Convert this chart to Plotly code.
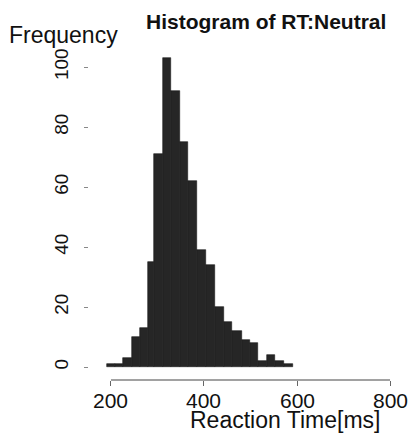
import plotly.graph_objects as go

# Data
bin_edges = [191, 208, 225, 246, 262, 279, 293, 311, 329, 348, 366, 384,
             404, 424, 442, 460, 481, 499, 517, 535, 553, 573, 591]
counts = [1, 1, 3, 10, 13, 35, 71, 103, 92, 75, 62, 39,
          34, 20, 15, 12, 9, 8, 2, 4, 2, 1]
x_ticks = [200, 400, 600, 800]
y_ticks = [0, 20, 40, 60, 80, 100]

centers = [(a + b) / 2 for a, b in zip(bin_edges[:-1], bin_edges[1:])]
widths = [b - a for a, b in zip(bin_edges[:-1], bin_edges[1:])]

FONT = "Liberation Sans, Arial, Helvetica, sans-serif"

fig = go.Figure(go.Bar(
    x=centers, y=counts, width=widths,
    marker=dict(color="#262626", line=dict(color="#1a1a1a", width=0.6)),
    hoverinfo="skip",
))

W, H = 412, 436
ML, MR, MT, MB = 88, 15, 50, 56
pw = W - ML - MR
ph = H - MT - MB

def px2x(px):
    return (px - ML) / pw

def px2y(py):
    return (H - MB - py) / ph

annotations = [
    dict(text="<b>Histogram of RT:Neutral</b>", xref="paper", yref="paper",
         x=px2x(265.5), y=px2y(22), xanchor="center", yanchor="middle",
         showarrow=False, font=dict(size=21, family=FONT, color="#111")),
    dict(text="Frequency", xref="paper", yref="paper",
         x=px2x(63), y=px2y(35), xanchor="center", yanchor="middle",
         showarrow=False, font=dict(size=23, family=FONT, color="#111")),
    dict(text="Reaction Time[ms]", xref="paper", yref="paper",
         x=px2x(285), y=px2y(420), xanchor="center", yanchor="middle",
         showarrow=False, font=dict(size=23, family=FONT, color="#111")),
]
# x tick labels placed as text at the axis tick values
for v in x_ticks:
    annotations.append(dict(
        text=str(v), xref="x", yref="paper", x=v, y=px2y(400),
        xanchor="center", yanchor="middle", showarrow=False,
        font=dict(size=21, family=FONT, color="#111")))

fig.update_layout(
    width=W, height=H,
    margin=dict(l=ML, r=MR, t=MT, b=MB, pad=0),
    paper_bgcolor="white", plot_bgcolor="white",
    bargap=0, showlegend=False,
    font=dict(family=FONT, color="#111"),
    xaxis=dict(
        domain=[px2x(104), 1], range=[185, 815],
        tickmode="array", tickvals=x_ticks, showticklabels=False,
        ticks="outside", ticklen=5, tickcolor="#666", tickwidth=1,
        showline=False, showgrid=False, zeroline=False,
    ),
    yaxis=dict(
        range=[-4.33, 105.67], anchor="free", position=0,
        tickmode="array", tickvals=y_ticks, ticktext=[str(v) for v in y_ticks],
        ticks="outside", ticklen=4, tickcolor="#888", tickwidth=1,
        tickangle=-90, ticklabelstandoff=8,
        showline=False, showgrid=False, zeroline=False,
        tickfont=dict(size=19, family=FONT, color="#111"),
    ),
    shapes=[dict(type="line", xref="x", yref="paper", x0=200, x1=800, y0=0, y1=0,
                 line=dict(color="#444", width=1))],
    annotations=annotations,
)

fig.write_html("out.html", config={"displayModeBar": False},
               post_script="document.body.style.margin='0px';")
